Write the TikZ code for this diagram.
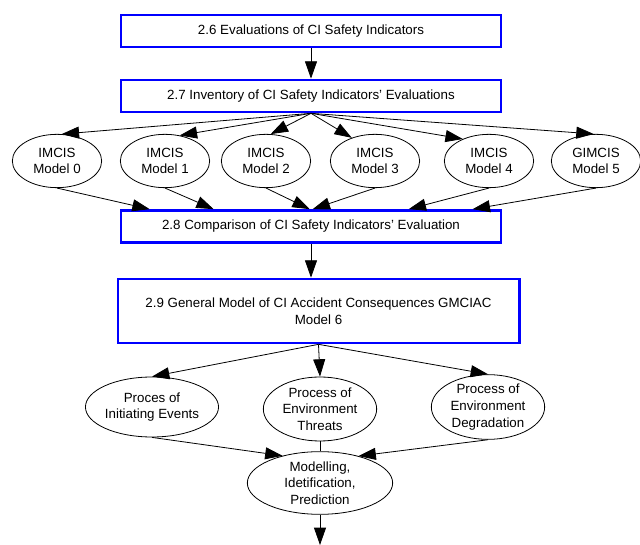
\documentclass[tikz,border=0pt]{standalone}
\usepackage{fontspec}
\setmainfont{Liberation Sans}
\usetikzlibrary{calc}
\usetikzlibrary{positioning}
\usetikzlibrary{shapes.geometric, arrows.meta}

\begin{document}
\begin{tikzpicture}[
        x=0.75pt, y=-0.75pt,
        every node/.style={font=\fontsize{10}{12.5}\selectfont, align=center, inner sep=0pt},
        stage/.style={draw=blue, line width=2pt, rectangle, minimum width=285pt, minimum height=24pt},
        model/.style={draw, ellipse, line width=0.6pt, minimum width=67pt, minimum height=40pt},
        proc/.style={draw, ellipse, line width=0.6pt, minimum width=85pt, minimum height=48pt},
        arr/.style={-{Triangle[length=13pt,width=9pt]}, line width=0.6pt}]

        \useasboundingbox (0,0) rectangle (640,545);

        \node[stage] (S26) at (311,31) {2.6 Evaluations of CI Safety Indicators};
        \node[stage] (S27) at (311,96) {2.7 Inventory of CI Safety Indicators' Evaluations};

        \node[model] (M0) at (57,161) {IMCIS\\Model 0};
        \node[model] (M1) at (165,161) {IMCIS\\Model 1};
        \node[model] (M2) at (266,161) {IMCIS\\Model 2};
        \node[model] (M3) at (375,161) {IMCIS\\Model 3};
        \node[model] (M4) at (489,161) {IMCIS\\Model 4};
        \node[model] (M5) at (596,161) {GIMCIS\\Model 5};

        \node[stage] (S28) at (311,226.5) {2.8 Comparison of CI Safety Indicators' Evaluation};
        \node[stage, minimum width=301pt, minimum height=48pt] (S29) at (318.5,311)
            {2.9 General Model of CI Accident Consequences GMCIAC\\Model 6};

        \node[proc, minimum width=82pt, minimum height=45pt] (PI) at (152,407) {Proces of\\Initiating Events};
        \node[proc] (PT) at (320,409) {Process of\\Environment\\Threats};
        \node[proc] (PD) at (488,407) {Process of\\Environment\\Degradation};
        \node[proc, minimum width=109pt, minimum height=47pt] (MIP) at (320,483) {Modelling,\\Idetification,\\Prediction};

        \coordinate (T0) at ($(S28.north west)+(30,0)$);
        \coordinate (T1) at ($(S28.north west)+(94,0)$);
        \coordinate (T2) at ($(S28.north west)+(190,0)$);
        \coordinate (T3) at ($(S28.north west)+(193,0)$);
        \coordinate (T4) at ($(S28.north west)+(289,0)$);
        \coordinate (T5) at ($(S28.north west)+(353,0)$);
        \coordinate (Out) at (320,545);

        \draw[arr] (S26) -- (S27);
        \draw[arr] (S27.south) -- (M0.80);
        \draw[arr] (S27.south) -- (M1.60);
        \draw[arr] (S27.south) -- (M2.80);
        \draw[arr] (S27.south) -- (M3.135);
        \draw[arr] (S27.south) -- (M4.140);
        \draw[arr] (S27.south) -- (M5.95);
        \draw[arr] (M0.south) -- (T0);
        \draw[arr] (M1.south) -- (T1);
        \draw[arr] (M2.south) -- (T2);
        \draw[arr] (M3.south) -- (T3);
        \draw[arr] (M4.south) -- (T4);
        \draw[arr] (M5.south) -- (T5);
        \draw[arr] (S28.south) -- (S28.south |- S29.north);
        \draw[arr] (S29.south) -- (PI.north);
        \draw[arr] (S29.south) -- (PT.north);
        \draw[arr] (S29.south) -- (PD.north);
        \draw[arr] (PI.south) -- (MIP.144);
        \draw[-, line width=0.6pt] (PT.south) -- (MIP.north);
        \draw[arr] (PD.south) -- (MIP.35);
        \draw[arr] (MIP.south) -- (Out);

\end{tikzpicture}
\end{document}
